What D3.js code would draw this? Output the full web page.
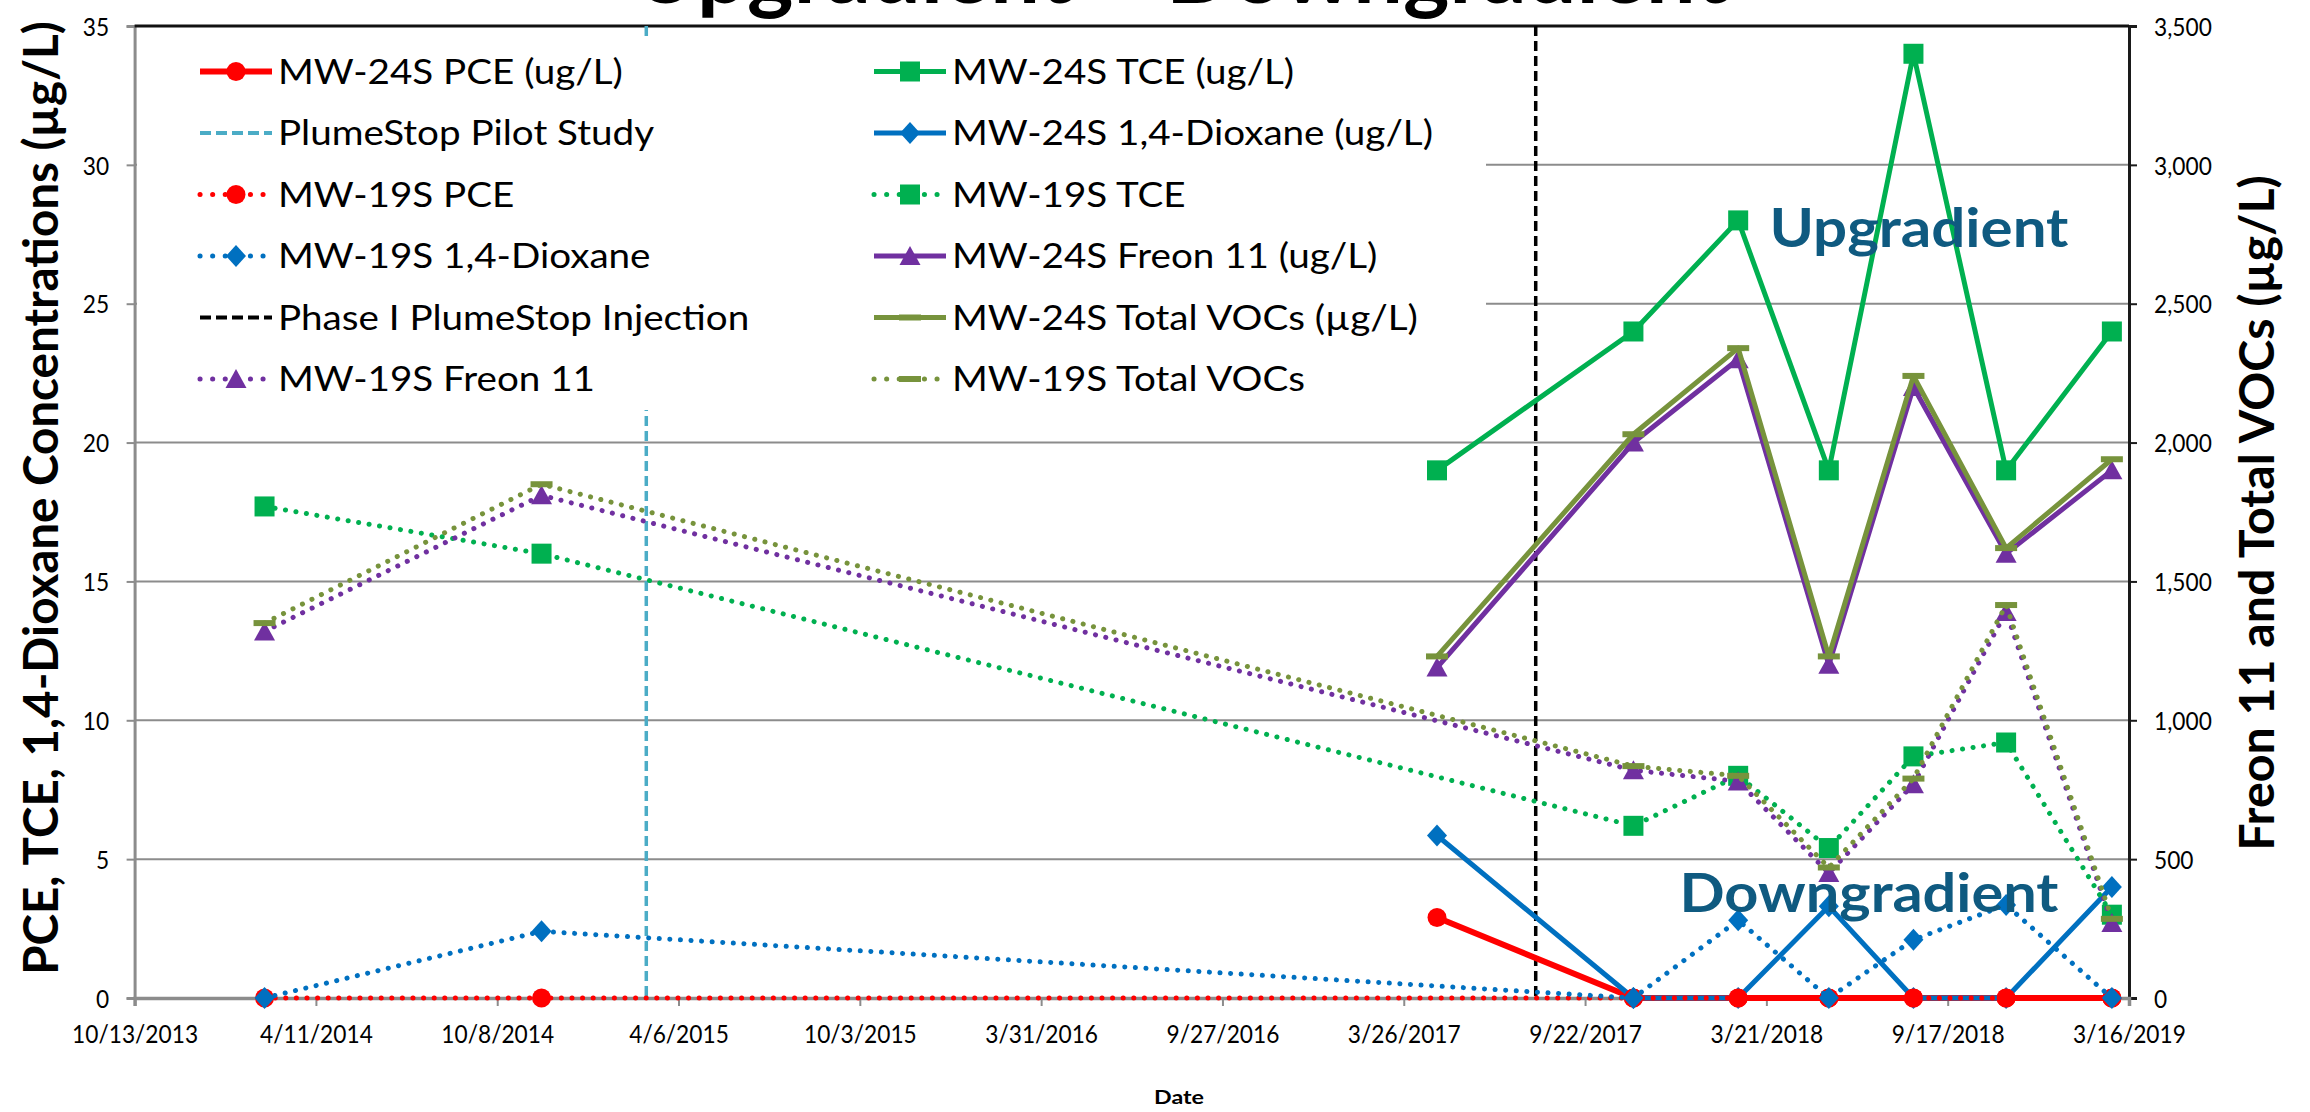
<!DOCTYPE html>
<html><head><meta charset="utf-8">
<script src="https://cdn.jsdelivr.net/npm/d3@7"></script>
<style>html,body{margin:0;padding:0;background:#fff;overflow:hidden}</style>
</head><body>
<svg id="c" width="2310" height="1112"></svg>
<script>
// ---------------- DATA ----------------
const xTickLabels = ["10/13/2013","4/11/2014","10/8/2014","4/6/2015","10/3/2015","3/31/2016","9/27/2016","3/26/2017","9/22/2017","3/21/2018","9/17/2018","3/16/2019"];
const leftTicks = [0,5,10,15,20,25,30,35];
const rightTicks = [0,500,1000,1500,2000,2500,3000,3500];

const dates24 = ["2017-04-28","2017-11-09","2018-02-21","2018-05-22","2018-08-14","2018-11-14","2019-02-27"];
const dates19 = ["2014-02-19","2014-11-21","2017-11-09","2018-02-21","2018-05-22","2018-08-14","2018-11-14","2019-02-27"];

const mw24PCE   = [2.9, 0, 0, 0, 0, 0, 0];
const mw24TCE   = [19, 24, 28, 19, 34, 19, 24];
const mw24Diox  = [5.85, 0, 0, 3.3, 0, 0, 4.0];
const mw24Freon = [1190, 2000, 2300, 1200, 2200, 1600, 1900];
const mw24VOC   = [1230, 2030, 2340, 1230, 2240, 1620, 1940];

const mw19PCE   = [0, 0, 0, 0, 0, 0, 0, 0];
const mw19TCE   = [17.7, 16.0, 6.2, 8.0, 5.4, 8.7, 9.2, 3.0];
const mw19Diox  = [0, 2.4, 0, 2.8, 0, 2.1, 3.35, 0];
const mw19Freon = [1320, 1810, 820, 780, 450, 770, 1390, 270];
const mw19VOC   = [1350, 1850, 835, 800, 470, 790, 1415, 285];

const pilotDate = "2015-03-05";
const phaseIDate = "2017-08-04";

const legendNames = [
  "MW-24S PCE (ug/L)", "MW-24S TCE (ug/L)",
  "PlumeStop Pilot Study", "MW-24S 1,4-Dioxane (ug/L)",
  "MW-19S PCE", "MW-19S TCE",
  "MW-19S 1,4-Dioxane", "MW-24S Freon 11 (ug/L)",
  "Phase I PlumeStop Injection", "MW-24S Total VOCs (µg/L)",
  "MW-19S Freon 11", "MW-19S Total VOCs"
];

// ---------------- SETUP ----------------
const svg = d3.select("#c");
svg.append("rect").attr("width",2310).attr("height",1112).attr("fill","#fff");
const FONT = "Lato, 'Open Sans', sans-serif";
const CAP = 0.716; // Lato cap-height ratio
const parse = d3.utcParse("%Y-%m-%d");
const parseTick = d3.utcParse("%m/%d/%Y");
const L = 134.6, R = 2129, T = 26, B = 998;

const x = d3.scaleUtc().domain([parseTick(xTickLabels[0]), parseTick(xTickLabels[xTickLabels.length-1])]).range([L, R]);
const yL = d3.scaleLinear().domain([0,35]).range([B, T]);
const yR = d3.scaleLinear().domain([0,3500]).range([B, T]);

function fit(sel, target){
  const w = sel.node().getComputedTextLength();
  const fs = parseFloat(sel.attr("font-size"));
  const nf = fs*target/w;
  sel.attr("font-size", nf);
  return nf;
}
function measure(txt, fs, weight){
  const t = svg.append("text").attr("font-family",FONT).attr("font-size",fs).attr("font-weight",weight).text(txt);
  const w = t.node().getComputedTextLength(); t.remove();
  return w;
}
function fitSize(txt, fs, weight, target){ return fs*target/measure(txt, fs, weight); }
// place text at (px,py) with vertical stretch so that caps reach capTarget
function place(sel, px, py, capTarget, rot){
  const fs = parseFloat(sel.attr("font-size"));
  const k = capTarget/(CAP*fs);
  sel.attr("x",0).attr("y",0).attr("transform",`translate(${px},${py})${rot?" rotate(-90)":""} scale(1,${k})`);
}

// ---------------- GRID ----------------
const grid = svg.append("g");
leftTicks.filter(v=>v>0 && v<35).forEach(v=>{
  grid.append("line").attr("x1",L).attr("x2",R).attr("y1",yL(v)).attr("y2",yL(v))
    .attr("stroke","#8c8c8c").attr("stroke-width",2);
});

// ---------------- AXES ----------------
const tickFS = fitSize("10/13/2013", 26, 400, 126);
const tickK = 18.5/(CAP*tickFS);
const axL = d3.axisLeft(yL).tickValues(leftTicks).tickSize(8).tickPadding(18).tickFormat(d3.format("d"));
const gL = svg.append("g").attr("transform",`translate(${L},0)`).call(axL);
gL.select(".domain").attr("stroke","#8c8c8c").attr("stroke-width",3);
gL.selectAll(".tick line").attr("stroke","#8c8c8c").attr("stroke-width",2);
gL.selectAll(".tick text").attr("font-family",FONT).attr("font-size",tickFS).attr("fill","#000")
  .attr("x",0).attr("dy",null).attr("transform",`translate(-25.5,${0.5*18.5}) scale(1,${tickK})`);
const axR = d3.axisRight(yR).tickValues(rightTicks).tickSize(8).tickPadding(17).tickFormat(d3.format(","));
const gR = svg.append("g").attr("transform",`translate(${R},0)`).call(axR);
gR.select(".domain").attr("stroke","#1a1a1a").attr("stroke-width",3);
gR.selectAll(".tick line").attr("stroke","#1a1a1a").attr("stroke-width",2);
gR.selectAll(".tick text").attr("font-family",FONT).attr("font-size",tickFS).attr("fill","#000")
  .attr("x",0).attr("dy",null).attr("transform",`translate(25,${0.5*18.5}) scale(1,${tickK})`);
svg.append("line").attr("x1",L).attr("x2",R).attr("y1",T).attr("y2",T).attr("stroke","#111").attr("stroke-width",3);
const axB = d3.axisBottom(x).tickValues(xTickLabels.map(parseTick)).tickSize(8).tickPadding(18)
  .tickFormat((d,i)=>xTickLabels[i]);
const gB = svg.append("g").attr("transform",`translate(0,${B})`).call(axB);
gB.select(".domain").attr("stroke","#8c8c8c").attr("stroke-width",3.5);
gB.selectAll(".tick line").attr("stroke","#8c8c8c").attr("stroke-width",2);
gB.selectAll(".tick text").attr("font-family",FONT).attr("font-size",tickFS).attr("fill","#000")
  .attr("y",0).attr("dy",null).attr("transform",`translate(0,45) scale(1,${tickK})`);

// ---------------- VERTICAL EVENT LINES ----------------
svg.append("line").attr("x1",x(parse(pilotDate))).attr("x2",x(parse(pilotDate))).attr("y1",T).attr("y2",B)
  .attr("stroke","#4BACC6").attr("stroke-width",3.5).attr("stroke-dasharray","10 5");
svg.append("line").attr("x1",x(parse(phaseIDate))).attr("x2",x(parse(phaseIDate))).attr("y1",T).attr("y2",B)
  .attr("stroke","#000").attr("stroke-width",3.5).attr("stroke-dasharray","10 5");

// ---------------- SERIES ----------------
const series = [
  {name:legendNames[0], dates:dates24, values:mw24PCE,  y:yL, color:"#FF0000", dotted:false, marker:"circle", w:6},
  {name:legendNames[1], dates:dates24, values:mw24TCE,  y:yL, color:"#00B050", dotted:false, marker:"square", w:5},
  {name:legendNames[3], dates:dates24, values:mw24Diox, y:yL, color:"#0070C0", dotted:false, marker:"diamond", w:5},
  {name:legendNames[4], dates:dates19, values:mw19PCE,  y:yL, color:"#FF0000", dotted:true, marker:"circle", w:5},
  {name:legendNames[5], dates:dates19, values:mw19TCE,  y:yL, color:"#00B050", dotted:true, marker:"square", w:5},
  {name:legendNames[6], dates:dates19, values:mw19Diox, y:yL, color:"#0070C0", dotted:true, marker:"diamond", w:5},
  {name:legendNames[7], dates:dates24, values:mw24Freon, y:yR, color:"#7030A0", dotted:false, marker:"triangle", w:5},
  {name:legendNames[9], dates:dates24, values:mw24VOC,  y:yR, color:"#77933C", dotted:false, marker:"dash", w:5},
  {name:legendNames[10], dates:dates19, values:mw19Freon, y:yR, color:"#7030A0", dotted:true, marker:"triangle", w:5},
  {name:legendNames[11], dates:dates19, values:mw19VOC,  y:yR, color:"#77933C", dotted:true, marker:"dash", w:5}
];

function drawMarker(g, type, cx, cy, color){
  if(type==="circle") g.append("circle").attr("cx",cx).attr("cy",cy).attr("r",9.5).attr("fill",color);
  else if(type==="square") g.append("rect").attr("x",cx-10).attr("y",cy-10).attr("width",20).attr("height",20).attr("fill",color);
  else if(type==="diamond") g.append("path").attr("d",`M${cx},${cy-11}L${cx+10},${cy}L${cx},${cy+11}L${cx-10},${cy}Z`).attr("fill",color);
  else if(type==="triangle") g.append("path").attr("d",`M${cx},${cy-10}L${cx+10.5},${cy+9}L${cx-10.5},${cy+9}Z`).attr("fill",color);
  else if(type==="dash") g.append("rect").attr("x",cx-11).attr("y",cy-3).attr("width",22).attr("height",6).attr("fill",color);
}
function styleLine(p, s){
  p.attr("fill","none").attr("stroke",s.color).attr("stroke-width",s.w).attr("stroke-linejoin","round");
  if(s.dotted) p.attr("stroke-dasharray","0.1 10.5").attr("stroke-linecap","round");
}

const plot = svg.append("g");
series.forEach(s=>{
  const pts = s.dates.map((d,i)=>[x(parse(d)), s.y(s.values[i])]);
  const p = plot.append("path").attr("d", d3.line()(pts));
  styleLine(p, s);
  const mg = plot.append("g");
  pts.forEach(pt=>drawMarker(mg, s.marker, pt[0], pt[1], s.color));
});

// ---------------- LEGEND ----------------
svg.append("rect").attr("x",137).attr("y",38).attr("width",1349).attr("height",372).attr("fill","#fff");
const refTexts = ["MW-24S PCE (ug/L)","PlumeStop Pilot Study","Phase I PlumeStop Injection","MW-24S Total VOCs (µg/L)"];
const refWidths = [336, 382, 480, 460];
const legFS = 40*d3.sum(refWidths)/d3.sum(refTexts.map(t=>measure(t,40,400)));
const legend = svg.append("g");
const legendStyle = {
  "PlumeStop Pilot Study": {color:"#4BACC6", dash:"11 5", w:4},
  "Phase I PlumeStop Injection": {color:"#000", dash:"11 5", w:4}
};
legendNames.forEach((name,i)=>{
  const col = i%2, row = Math.floor(i/2);
  const x0 = col===0 ? 200 : 874;
  const cy = 71.5 + row*61.5;
  const s = series.find(d=>d.name===name);
  if(s){
    const p = legend.append("path").attr("d",`M${x0},${cy}H${x0+72}`);
    styleLine(p, s);
    if(s.dotted) p.attr("stroke-dasharray","0.1 12.5");
    drawMarker(legend, s.marker, x0+36, cy, s.color);
  } else {
    const st = legendStyle[name];
    legend.append("path").attr("d",`M${x0},${cy}H${x0+72}`).attr("stroke",st.color)
      .attr("stroke-width",st.w).attr("stroke-dasharray",st.dash);
  }
  const t = legend.append("text").attr("font-family",FONT)
    .attr("font-size",legFS).attr("fill","#000").text(name);
  place(t, x0+78, cy+12, 24.5, false);
});

// ---------------- ANNOTATIONS ----------------
const up = svg.append("text").attr("font-family",FONT).attr("font-weight",700)
  .attr("font-size",64).attr("fill","#0F5A80").text("Upgradient");
fit(up, 299); place(up, 1769.5, 246.7, 38.5, false);
const down = svg.append("text").attr("font-family",FONT).attr("font-weight",700)
  .attr("font-size",64).attr("fill","#0F5A80").text("Downgradient");
fit(down, 379); place(down, 1679.5, 912, 38.5, false);

// ---------------- TITLES ----------------
const title = svg.append("text").attr("font-family",FONT).attr("font-weight",700)
  .attr("font-size",94).attr("fill","#000").text("Upgradient – Downgradient");
fit(title, 1095); place(title, 633, 3, 62, false);

const lt = svg.append("text").attr("text-anchor","middle")
  .attr("font-family",FONT).attr("font-weight",700).attr("font-size",52).attr("fill","#000")
  .text("PCE, TCE, 1,4-Dioxane Concentrations (µg/L)");
fit(lt, 954); place(lt, 58, 498, 34, true);
const rt = svg.append("text").attr("text-anchor","middle")
  .attr("font-family",FONT).attr("font-weight",700).attr("font-size",52).attr("fill","#000")
  .text("Freon 11 and Total VOCs (µg/L)");
fit(rt, 676); place(rt, 2274, 513, 34, true);

const dl = svg.append("text").attr("text-anchor","middle")
  .attr("font-family",FONT).attr("font-weight",700).attr("font-size",22).attr("fill","#000").text("Date");
fit(dl, 50); place(dl, 1179, 1104, 14, false);
</script>
</body></html>
